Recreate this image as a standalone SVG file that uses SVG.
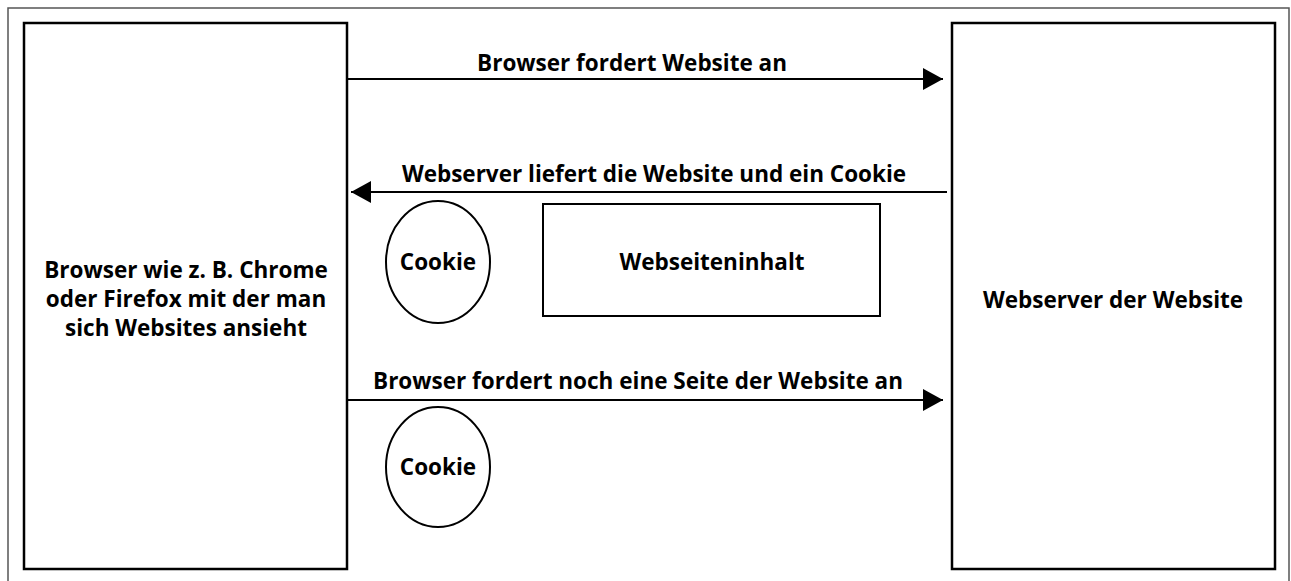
<svg xmlns="http://www.w3.org/2000/svg" width="1291" height="581" viewBox="0 0 1291 581">
<style>
.box{fill:#fff;stroke:#000;stroke-width:2.5}
.frame{fill:none;stroke:#555;stroke-width:1.5}
.t{font-family:"Open Sans","Liberation Sans",Arial,sans-serif;font-weight:bold;font-size:22.5px;fill:#000;text-anchor:middle}
.c{stroke:#000;stroke-width:2;fill:none}
</style>
<defs>
<marker id="ah" viewBox="0 0 20 22" refX="20" refY="11" markerWidth="20" markerHeight="22" markerUnits="userSpaceOnUse" orient="auto">
<path d="M0,0 L20,11 L0,22 Z" fill="#000"/>
</marker>
</defs>
<rect x="0" y="0" width="1291" height="581" fill="#fff"/>
<rect class="frame" x="8" y="8" width="1281" height="590"/>
<g id="browser">
<rect class="box" x="24" y="23" width="323" height="546"/>
<text class="t" x="186" y="278">Browser wie z. B. Chrome</text>
<text class="t" x="186" y="307">oder Firefox mit der man</text>
<text class="t" x="186" y="336">sich Websites ansieht</text>
</g>
<g id="server">
<rect class="box" x="952" y="23" width="323" height="546"/>
<text class="t" x="1113" y="308">Webserver der Website</text>
</g>
<g id="cookie1">
<ellipse cx="438" cy="262" rx="52" ry="61" fill="#fff" stroke="#000" stroke-width="2"/>
<text class="t" x="438" y="270">Cookie</text>
</g>
<g id="content">
<rect x="543" y="204" width="337" height="112" fill="#fff" stroke="#000" stroke-width="2"/>
<text class="t" x="712" y="270">Webseiteninhalt</text>
</g>
<g id="cookie2">
<ellipse cx="438" cy="467" rx="52" ry="60" fill="#fff" stroke="#000" stroke-width="2"/>
<text class="t" x="438" y="475">Cookie</text>
</g>
<g id="connectors">
<line class="c" x1="347" y1="79" x2="943" y2="79" marker-end="url(#ah)"/>
<text class="t" x="632" y="71">Browser fordert Website an</text>
<line class="c" x1="947" y1="192" x2="351" y2="192" marker-end="url(#ah)"/>
<text class="t" x="654" y="182">Webserver liefert die Website und ein Cookie</text>
<line class="c" x1="347" y1="400" x2="943" y2="400" marker-end="url(#ah)"/>
<text class="t" x="638" y="389">Browser fordert noch eine Seite der Website an</text>
</g>
</svg>
